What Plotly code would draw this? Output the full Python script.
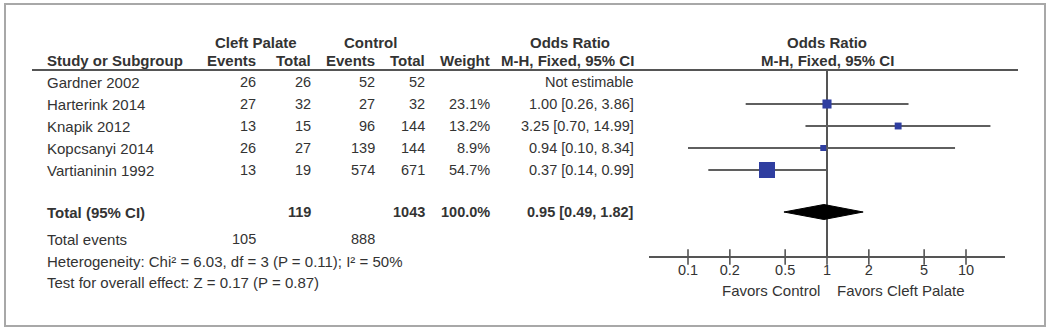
import plotly.graph_objects as go

# ---------------- data ----------------
studies = ["Gardner 2002", "Harterink 2014", "Knapik 2012", "Kopcsanyi 2014", "Vartianinin 1992"]
cp_events = [26, 27, 13, 26, 13]
cp_total = [26, 32, 15, 27, 19]
ct_events = [52, 27, 96, 139, 574]
ct_total = [52, 32, 144, 144, 671]
weights = [None, 23.1, 13.2, 8.9, 54.7]
or_est = [None, 1.00, 3.25, 0.94, 0.37]
or_lo = [None, 0.26, 0.70, 0.10, 0.14]
or_hi = [None, 3.86, 14.99, 8.34, 0.99]
or_text = ["Not estimable", "1.00 [0.26, 3.86]", "3.25 [0.70, 14.99]", "0.94 [0.10, 8.34]", "0.37 [0.14, 0.99]"]
weight_text = ["", "23.1%", "13.2%", "8.9%", "54.7%"]

total_cp = 119
total_ct = 1043
total_weight = "100.0%"
total_or = 0.95
total_lo = 0.49
total_hi = 1.82
total_or_text = "0.95 [0.49, 1.82]"
total_events_cp = 105
total_events_ct = 888
heterogeneity = "Heterogeneity: Chi² = 6.03, df = 3 (P = 0.11); I² = 50%"
overall = "Test for overall effect: Z = 0.17 (P = 0.87)"

tick_vals = [0.1, 0.2, 0.5, 1, 2, 5, 10]
tick_text = ["0.1", "0.2", "0.5", "1", "2", "5", "10"]

# ---------------- layout (pixel based) ----------------
W, H = 1050, 330
row_y = [82, 104, 126, 148, 170]
total_y = 212
axis_y = 257
header_line_y = 70
header2_y = 60.5
TXT = "#333333"
LINE = "#555555"
BLUE = "#2f3ea0"
FONT = "Liberation Sans, Arial, sans-serif"
FS = 15
FS_NUM = 14.5

def px(x):
    return x / W

fig = go.Figure()

# vertical line of no effect
fig.add_trace(go.Scatter(x=[1, 1], y=[header_line_y, axis_y], mode="lines",
                         line=dict(color=LINE, width=2), hoverinfo="skip", showlegend=False))

# CI lines and squares
for i in range(len(studies)):
    if or_est[i] is None:
        continue
    fig.add_trace(go.Scatter(x=[or_lo[i], or_hi[i]], y=[row_y[i], row_y[i]], mode="lines",
                             line=dict(color="#5f5f5f", width=2.2), hoverinfo="skip", showlegend=False))
    fig.add_trace(go.Scatter(x=[or_est[i]], y=[row_y[i]], mode="markers",
                             marker=dict(symbol="square", color=BLUE,
                                         size=4 + 12 * weights[i] / 54.7, line=dict(width=0)),
                             hoverinfo="skip", showlegend=False))

# diamond
dh = 7.5
fig.add_trace(go.Scatter(x=[total_lo, total_or, total_hi, total_or, total_lo],
                         y=[total_y, total_y - dh, total_y, total_y + dh, total_y],
                         mode="lines", fill="toself", fillcolor="#000000",
                         line=dict(color="#000000", width=1), hoverinfo="skip", showlegend=False))

# tick marks crossing the axis
fig.add_trace(go.Scatter(x=tick_vals, y=[axis_y] * len(tick_vals), mode="markers",
                         marker=dict(symbol="line-ns", size=11, line=dict(color=LINE, width=1.6)),
                         hoverinfo="skip", showlegend=False))

ann = []
def txt(x, y, s, anchor="left", bold=False, size=FS):
    ann.append(dict(x=px(x), y=y, xref="paper", yref="y", text=("<b>%s</b>" % s) if bold else s,
                    showarrow=False, xanchor=anchor, yanchor="middle",
                    font=dict(family=FONT, size=size, color=TXT)))

# headers
txt(256, 42, "Cleft Palate", "center", True)
txt(370, 42, "Control", "center", True)
txt(570, 42, "Odds Ratio", "center", True)
txt(827, 42, "Odds Ratio", "center", True)
txt(45, header2_y, "Study or Subgroup", "left", True)
txt(258, header2_y, "Events", "right", True)
txt(313, header2_y, "Total", "right", True)
txt(377, header2_y, "Events", "right", True)
txt(427, header2_y, "Total", "right", True)
txt(492, header2_y, "Weight", "right", True)
txt(636, header2_y, "M-H, Fixed, 95% CI", "right", True)
txt(827, header2_y, "M-H, Fixed, 95% CI", "center", True)

for i, s in enumerate(studies):
    y = row_y[i]
    txt(45, y, s)
    txt(258, y, str(cp_events[i]), "right", size=FS_NUM)
    txt(313, y, str(cp_total[i]), "right", size=FS_NUM)
    txt(377, y, str(ct_events[i]), "right", size=FS_NUM)
    txt(427, y, str(ct_total[i]), "right", size=FS_NUM)
    txt(492, y, weight_text[i], "right", size=FS_NUM)
    txt(636, y, or_text[i], "right", size=FS_NUM)

txt(45, total_y, "Total (95% CI)", "left", True)
txt(313, total_y, str(total_cp), "right", True, FS_NUM)
txt(427, total_y, str(total_ct), "right", True, FS_NUM)
txt(492, total_y, total_weight, "right", True, FS_NUM)
txt(636, total_y, total_or_text, "right", True, FS_NUM)

txt(45, 239, "Total events")
txt(258, 239, str(total_events_cp), "right", size=FS_NUM)
txt(377, 239, str(total_events_ct), "right", size=FS_NUM)
txt(45, 261, heterogeneity)
txt(45, 282, overall)

txt(822, 290, "Favors Control", "right")
txt(835, 290, "Favors Cleft Palate", "left")

shapes = [
    dict(type="rect", xref="paper", yref="paper", x0=px(5), x1=px(1045), y0=1 - 4 / H, y1=1 - 326 / H,
         line=dict(color="#a8a8a8", width=2), fillcolor="rgba(0,0,0,0)"),
    dict(type="line", xref="paper", yref="y", x0=px(32), x1=px(1018), y0=header_line_y, y1=header_line_y,
         line=dict(color=LINE, width=2)),
]

fig.update_layout(
    width=W, height=H,
    margin=dict(l=0, r=0, t=0, b=0),
    paper_bgcolor="white", plot_bgcolor="rgba(0,0,0,0)",
    annotations=ann, shapes=shapes,
    xaxis=dict(type="log", range=[-1.2806, 1.2806], domain=[px(649), px(1005)],
               anchor="free", position=(H - axis_y) / H,
               showline=True, linecolor=LINE, linewidth=2, showgrid=False, zeroline=False,
               tickvals=tick_vals, ticktext=tick_text, ticks="", ticklen=0,
               tickfont=dict(family=FONT, size=14.5, color=TXT)),
    yaxis=dict(range=[H, 0], domain=[0, 1], visible=False, showgrid=False, zeroline=False),
)

fig.write_html("out.html", config={"displayModeBar": False},
               post_script="document.body.style.margin='0';document.body.style.overflow='hidden';")
